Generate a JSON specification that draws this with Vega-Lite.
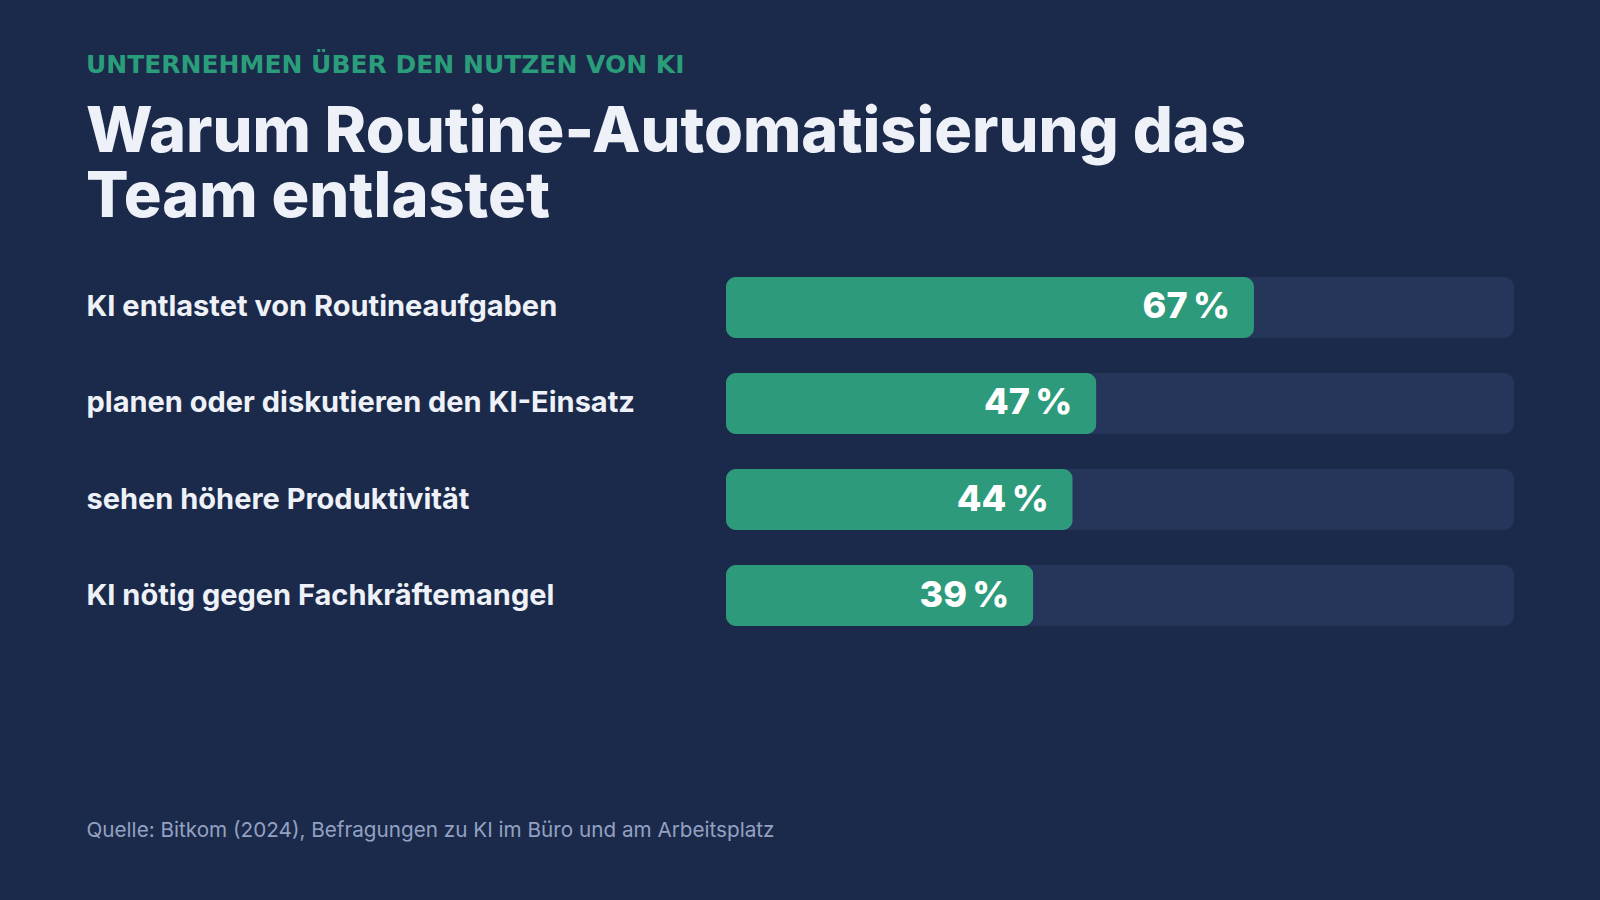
{
  "$schema": "https://vega.github.io/schema/vega-lite/v6.json",
  "autosize": {"type": "none"},
  "width": 788,
  "height": 349,
  "padding": {"left": 726, "right": 86, "top": 277, "bottom": 274},
  "background": "#1b2a4a",
  "config": {"view": {"stroke": null}, "font": "Inter"},
  "title": {
    "text": "UNTERNEHMEN ÜBER DEN NUTZEN VON KI",
    "subtitle": ["Warum Routine-Automatisierung das", "Team entlastet"],
    "anchor": "start",
    "frame": "group",
    "dx": -640,
    "offset": 47,
    "font": "DejaVu Sans",
    "fontSize": 25,
    "fontWeight": "bold",
    "color": "#2a9d7a",
    "subtitleFont": "Inter",
    "subtitleFontSize": 63,
    "subtitleFontWeight": 800,
    "subtitleColor": "#eef2f8",
    "subtitleLineHeight": 65,
    "subtitlePadding": 24
  },
  "data": {
    "values": [
      {"kategorie": "KI entlastet von Routineaufgaben", "wert": 67, "label": "67\u202f%"},
      {"kategorie": "planen oder diskutieren den KI-Einsatz", "wert": 47, "label": "47\u202f%"},
      {"kategorie": "sehen höhere Produktivität", "wert": 44, "label": "44\u202f%"},
      {"kategorie": "KI nötig gegen Fachkräftemangel", "wert": 39, "label": "39\u202f%"}
    ]
  },
  "encoding": {
    "y": {
      "field": "kategorie",
      "type": "nominal",
      "sort": null,
      "scale": {"paddingInner": 0.365, "paddingOuter": 0},
      "axis": {
        "title": null,
        "domain": false,
        "ticks": false,
        "tickSize": 0,
        "labelAlign": "left",
        "labelPadding": 640,
        "labelLimit": 0,
        "labelFont": "Inter",
        "labelFontSize": 29,
        "labelFontWeight": 700,
        "labelColor": "#eef2f8"
      }
    }
  },
  "layer": [
    {
      "mark": {"type": "bar", "color": "#26355a", "cornerRadius": 10},
      "encoding": {
        "x": {
          "datum": 100,
          "type": "quantitative",
          "scale": {"domain": [0, 100], "nice": false},
          "axis": {
            "domain": false,
            "labels": false,
            "ticks": false,
            "grid": false,
            "title": "Quelle: Bitkom (2024), Befragungen zu KI im Büro und am Arbeitsplatz",
            "titleX": -640,
            "titleY": 210,
            "titleAlign": "left",
            "titleAnchor": null,
            "titleBaseline": "alphabetic",
            "titleFont": "Inter",
            "titleFontSize": 20.7,
            "titleFontWeight": 400,
            "titleColor": "#93a1c2"
          }
        }
      }
    },
    {
      "mark": {"type": "bar", "color": "#2d9b7b", "cornerRadius": 10},
      "encoding": {
        "x": {"field": "wert", "type": "quantitative"}
      }
    },
    {
      "mark": {"type": "text", "align": "right", "baseline": "middle", "dx": -24, "fontSize": 36, "fontWeight": 800, "color": "#ffffff", "font": "Inter"},
      "encoding": {
        "x": {"field": "wert", "type": "quantitative"},
        "text": {"field": "label"}
      }
    }
  ]
}
